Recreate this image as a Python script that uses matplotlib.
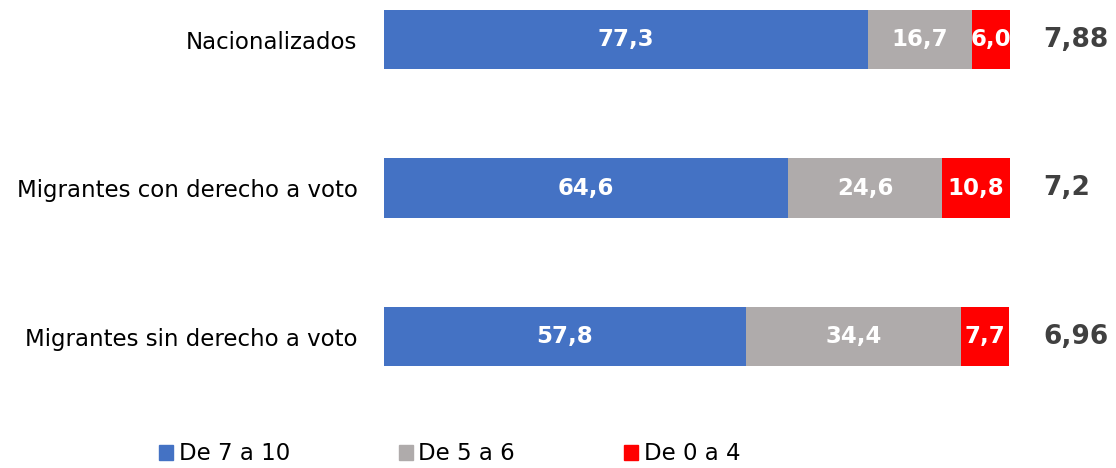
import matplotlib.pyplot as plt
from matplotlib.patches import Patch

categories = ['Nacionalizados', 'Migrantes con derecho a voto', 'Migrantes sin derecho a voto']
alto = [77.3, 64.6, 57.8]
medio = [16.7, 24.6, 34.4]
bajo = [6.0, 10.8, 7.7]
promedios = ['7,88', '7,2', '6,96']
series_names = ['De 7 a 10', 'De 5 a 6', 'De 0 a 4']
colors = ['#4472C4', '#AFABAB', '#FF0000']

fig = plt.figure(figsize=(11.16, 4.68), dpi=100)
ax = fig.add_axes([0.344, 0.154, 0.561, 0.8408])

y = list(range(len(categories)))
left = [0.0] * len(categories)
for vals, col in zip([alto, medio, bajo], colors):
    bars = ax.barh(y, vals, left=left, height=0.4, color=col)
    for b, v in zip(bars, vals):
        ax.text(b.get_x() + b.get_width() / 2, b.get_y() + b.get_height() / 2,
                f'{v:.1f}'.replace('.', ','), ha='center', va='center',
                color='white', fontsize=16.5, fontweight='bold')
    left = [l + v for l, v in zip(left, vals)]

for yi, p in zip(y, promedios):
    ax.text(105.3, yi, p, ha='left', va='center', fontsize=19,
            fontweight='bold', color='#404040', clip_on=False)

ax.set_xlim(0, 100)
ax.set_ylim(2.4, -0.25)
ax.set_yticks(y)
ax.set_yticklabels(categories, fontsize=16.5)
ax.tick_params(axis='y', length=0, pad=19)
ax.set_xticks([])
for s in ax.spines.values():
    s.set_visible(False)

handles = [Patch(color=c, label=n) for c, n in zip(colors, series_names)]
fig.legend(handles=handles, loc='center', bbox_to_anchor=(0.403, 0.03), ncol=3,
           frameon=False, fontsize=16.5, handlelength=0.6, handleheight=0.6,
           handletextpad=0.25, columnspacing=4.75)

fig.savefig('out.png', dpi=100)
